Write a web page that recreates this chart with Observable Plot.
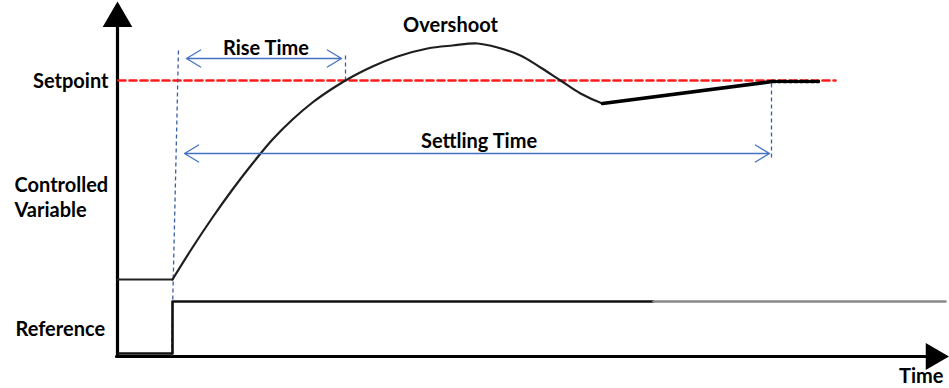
<!DOCTYPE html>
<html>
<head>
<meta charset="utf-8">
<script src="https://cdn.jsdelivr.net/npm/d3@7"></script>
<script src="https://cdn.jsdelivr.net/npm/@observablehq/plot@0.6"></script>
<style>
  html, body { margin: 0; padding: 0; background: #fff; }
  svg { display: block; }
</style>
</head>
<body>
<div id="chart"></div>
<script>
// Diagram units: time t (origin at the y axis), value v (origin at the time axis)
const setpoint = 276;
const setpointLine = [{t: 1, v: setpoint}, {t: 718, v: setpoint}];

// Controlled variable response
const cvStart = [{t: 0, v: 77}, {t: 55, v: 77}];
const cvTime  = [55, 75, 95, 115, 135, 155, 175, 195, 215, 235, 255, 280, 310, 335, 360, 380, 403, 423, 443, 463, 485];
const cvValue = [77, 109, 139, 167, 193, 217, 237, 254, 268, 280, 290, 300, 308, 311, 313, 309, 301, 289, 276, 263, 253];
const cvTail  = [{t: 485, v: 253}, {t: 655, v: 275}];
const cvFlat  = [{t: 655, v: 275}, {t: 701, v: 275}];

// Reference step
const refBlack = [{t: 1, v: 3}, {t: 55, v: 3}, {t: 55, v: 55}, {t: 536, v: 55}];
const refGray  = [{t: 536, v: 55}, {t: 828, v: 55}];

// Dashed markers
const markers = [
  {t1: 54, v1: 1, t2: 61, v2: 308},
  {t1: 228, v1: 276, t2: 228, v2: 304},
  {t1: 654, v1: 199, t2: 654, v2: 276}
];

// Double-headed interval arrows
const intervals = [
  {label: "Rise Time", start: 69, end: 224, v: 298, labelV: 308},
  {label: "Settling Time", start: 67, end: 652, v: 203, labelV: 215}
];

// Labels
const labels = [
  {text: "Overshoot", t: 333, v: 331, anchor: "middle"},
  {text: "Setpoint", t: -9, v: 275, anchor: "end"},
  {text: "Controlled", t: -103, v: 171, anchor: "start"},
  {text: "Variable", t: -103, v: 146, anchor: "start"},
  {text: "Reference", t: -102, v: 27, anchor: "start"},
  {text: "Time", t: 826, v: -20, anchor: "end"}
];

const cv = cvTime.map((t, i) => ({t, v: cvValue[i]}));
const halves = intervals.flatMap(d => {
  const mid = (d.start + d.end) / 2;
  return [{x1: mid, x2: d.start, y: d.v}, {x1: mid, x2: d.end, y: d.v}];
});

const font = "Lato, 'Open Sans', sans-serif";
const textStyle = {fontFamily: font, fontWeight: "bold", fontSize: 20, fill: "black"};

const chart = Plot.plot({
  width: 949,
  height: 388,
  margin: 0,
  x: {domain: [-117, 832], range: [0, 949]},
  y: {domain: [-32, 356], range: [388, 0]},
  axis: null,
  marks: [
    // axes
    Plot.line([{t: 0, v: 0}, {t: 0, v: 331}], {x: "t", y: "v", stroke: "black", strokeWidth: 3.2}),
    Plot.line([{t: -1, v: 0}, {t: 808, v: 0}], {x: "t", y: "v", stroke: "black", strokeWidth: 3.2}),
    Plot.dot([{t: 0, v: 338}], {x: "t", y: "v", symbol: "triangle", r: 11, fill: "black", stroke: null}),
    Plot.dot([{t: 816, v: 0}], {x: "t", y: "v", symbol: "triangle", r: 10, fill: "black", stroke: null, rotate: 90}),
    // setpoint
    Plot.line(setpointLine, {x: "t", y: "v", stroke: "#ff1a1a", strokeWidth: 2.6, strokeDasharray: "7,4"}),
    // dashed markers
    Plot.link(markers, {x1: "t1", y1: "v1", x2: "t2", y2: "v2", stroke: "#3b5ea8", strokeWidth: 1.3, strokeDasharray: "4,3"}),
    // reference
    Plot.line(refBlack, {x: "t", y: "v", stroke: "#111", strokeWidth: 2.6}),
    Plot.line(refGray, {x: "t", y: "v", stroke: "#8a8a8a", strokeWidth: 2.6}),
    // controlled variable
    Plot.line(cvStart, {x: "t", y: "v", stroke: "#222", strokeWidth: 2.2}),
    Plot.line(cv, {x: "t", y: "v", curve: "catmull-rom", stroke: "#1e1e1e", strokeWidth: 2.2}),
    Plot.line(cvTail, {x: "t", y: "v", stroke: "black", strokeWidth: 3.6}),
    Plot.line(cvFlat, {x: "t", y: "v", stroke: "black", strokeWidth: 3.6, strokeDasharray: "3,2.5"}),
    // interval arrows
    Plot.arrow(halves, {x1: "x1", x2: "x2", y1: "y", y2: "y", stroke: "#4472c4", strokeWidth: 1.3, headLength: 19, headAngle: 62}),
    Plot.text(intervals, {x: d => (d.start + d.end) / 2 + 2, y: "labelV", text: "label", ...textStyle}),
    // labels
    Plot.text(labels.filter(d => d.anchor === "middle"), {x: "t", y: "v", text: "text", textAnchor: "middle", ...textStyle}),
    Plot.text(labels.filter(d => d.anchor === "start"), {x: "t", y: "v", text: "text", textAnchor: "start", ...textStyle}),
    Plot.text(labels.filter(d => d.anchor === "end"), {x: "t", y: "v", text: "text", textAnchor: "end", ...textStyle})
  ]
});

document.getElementById("chart").appendChild(chart);
</script>
</body>
</html>
